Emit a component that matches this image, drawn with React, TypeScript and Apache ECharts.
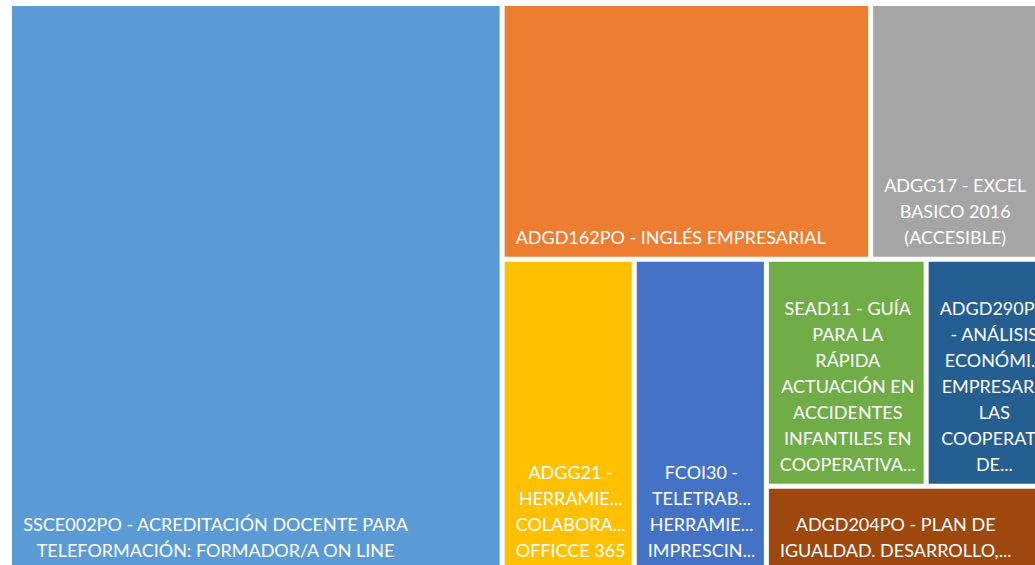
import React, { useEffect, useRef } from "react";
import * as echarts from "echarts";

// Course names (as displayed) and their relative sizes
const courseNames: string[] = [
  "SSCE002PO - ACREDITACIÓN DOCENTE PARA TELEFORMACIÓN: FORMADOR/A ON LINE",
  "ADGD162PO - INGLÉS EMPRESARIAL",
  "ADGG17 - EXCEL BASICO 2016 (ACCESIBLE)",
  "ADGG21 - HERRAMIE... COLABORA... OFFICCE 365",
  "FCOI30 - TELETRAB... HERRAMIE... IMPRESCIN...",
  "SEAD11 - GUÍA PARA LA RÁPIDA ACTUACIÓN EN ACCIDENTES INFANTILES EN COOPERATIVA...",
  "ADGD290PO - ANÁLISIS ECONÓMI... EMPRESAR... LAS COOPERAT... DE...",
  "ADGD204PO - PLAN DE IGUALDAD. DESARROLLO,...",
];

const courseLabels: string[] = [
  "SSCE002PO - ACREDITACIÓN DOCENTE PARA\nTELEFORMACIÓN: FORMADOR/A ON LINE",
  "ADGD162PO - INGLÉS EMPRESARIAL",
  "ADGG17 - EXCEL\nBASICO 2016\n(ACCESIBLE)",
  "ADGG21 -\nHERRAMIE...\nCOLABORA...\nOFFICCE 365",
  "FCOI30 -\nTELETRAB...\nHERRAMIE...\nIMPRESCIN...",
  "SEAD11 - GUÍA\nPARA LA\nRÁPIDA\nACTUACIÓN EN\nACCIDENTES\nINFANTILES EN\nCOOPERATIVA...",
  "ADGD290PO\n- ANÁLISIS\nECONÓMI...\nEMPRESAR...\nLAS\nCOOPERAT...\nDE...",
  "ADGD204PO - PLAN DE\nIGUALDAD. DESARROLLO,...",
];

const courseValues: number[] = [71.1, 23.9, 11.6, 10.5, 10.5, 9.2, 7.1, 6.2];

const palette: string[] = [
  "#5B9BD5",
  "#ED7D31",
  "#A5A5A5",
  "#FFC000",
  "#4472C4",
  "#70AD47",
  "#255E91",
  "#9E480E",
];

const FONT_FAMILY = "Lato";
const FONT_SIZE = 18;
const PAD_LEFT = 11;

const labelByName: Record<string, string> = {};
courseNames.forEach((n, i) => {
  labelByName[n] = courseLabels[i];
});

// widest line of a label, so the text block can be anchored at the tile's left
// edge while its lines are centred inside the block
function blockWidth(text: string): number {
  const canvas = document.createElement("canvas");
  const ctx = canvas.getContext("2d");
  if (!ctx) return 0;
  ctx.font = `${FONT_SIZE}px ${FONT_FAMILY}`;
  return Math.max(...text.split("\n").map((l) => ctx.measureText(l).width));
}

function leaf(i: number) {
  const w = blockWidth(courseLabels[i]);
  return {
    name: courseNames[i],
    value: courseValues[i],
    itemStyle: { color: palette[i] },
    label: {
      position: [PAD_LEFT + w / 2, "100%"],
      align: "center",
      verticalAlign: "bottom",
    },
  };
}

export default function App() {
  const ref = useRef<HTMLDivElement>(null);

  useEffect(() => {
    document.body.style.margin = "0";
    if (!ref.current) return;
    const chart = echarts.init(ref.current, undefined, { renderer: "svg" });
    const data = [
      leaf(0),
      leaf(1),
      leaf(2),
      leaf(3),
      leaf(4),
      {
        name: "",
        children: [
          { name: " ", children: [leaf(5), leaf(6)] },
          leaf(7),
        ],
      },
    ];
    chart.setOption({
      animation: false,
      backgroundColor: "#ffffff",
      tooltip: { show: false },
      series: [
        {
          type: "treemap",
          left: 12,
          top: 6,
          width: 1035,
          height: 564,
          sort: false,
          squareRatio: 0.76,
          roam: false,
          nodeClick: false,
          breadcrumb: { show: false },
          itemStyle: { borderWidth: 0, gapWidth: 5, borderColor: "#ffffff" },
          label: {
            show: true,
            color: "#ffffff",
            fontFamily: FONT_FAMILY,
            fontSize: FONT_SIZE,
            lineHeight: 26,
            padding: [0, 0, 7, 0],
            distance: 0,
            overflow: "none",
            formatter: (p: any) => labelByName[p.name] ?? "",
          },
          upperLabel: { show: false },
          data,
        },
      ],
    });
    return () => chart.dispose();
  }, []);

  return (
    <div
      ref={ref}
      style={{ width: 1035, height: 565, overflow: "hidden" }}
    />
  );
}
